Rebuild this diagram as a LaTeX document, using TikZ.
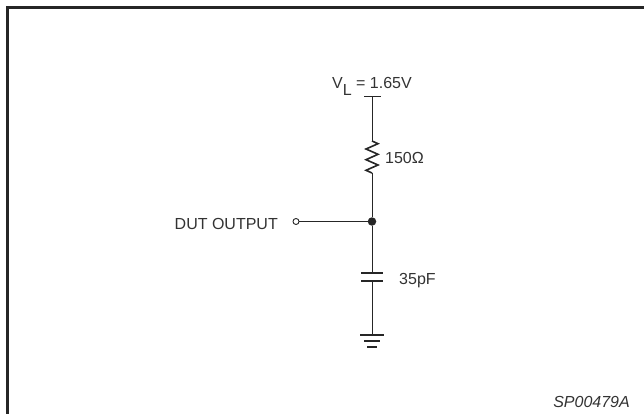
\documentclass[tikz,border=0pt]{standalone}
\usepackage{fontspec}
\setmainfont{Liberation Sans}
\begin{document}
\begin{tikzpicture}[x=1pt,y=-1pt,
  wire/.style={line width=1.0pt, color=black!85},
  plate/.style={line width=1.7pt, color=black!85},
  lbl/.style={font=\fontsize{16}{19}\selectfont, inner sep=0pt, text=black!80}]
\useasboundingbox (0,0) rectangle (644,414);
% frame
\draw[line width=2.2pt, black!85] (7.5,414) -- (7.5,7.5) -- (644,7.5);
% points
\coordinate (top) at (372,97);
\coordinate (rtop) at (372,141);
\coordinate (rbot) at (372,173);
\node[circle, fill=black!85, inner sep=0pt, minimum size=8.5pt] (j) at (372,221.5) {};
\node[circle, draw=black!85, fill=white, inner sep=0pt, minimum size=6pt, line width=0.9pt] (out) at (296,221.5) {};
\coordinate (c1) at (372,273);
\coordinate (c2) at (372,281);
\coordinate (g) at (372,335);
% supply bar
\draw[wire] (364,97) -- (381,97);
% resistor
\draw[wire] (top) -- (rtop);
\draw[wire, line width=1.6pt, line join=miter] (rtop) -- (378,143.7) -- (366,149) -- (378,154.3) -- (366,159.7) -- (378,165) -- (366,170.3) -- (rbot);
\draw[wire] (rbot) -- (j);
% output wire
\draw[wire] (out) -- (j);
% capacitor
\draw[wire] (j) -- (c1);
\draw[plate] (361,273) -- (383,273);
\draw[plate] (361,281) -- (383,281);
\draw[wire] (c2) -- (g);
% ground
\draw[plate] (360,335) -- (384,335);
\draw[plate] (364,341) -- (380,341);
\draw[plate] (367,347) -- (377,347);
% labels
\node[lbl, anchor=base west] (vl) at (332,89) {V\raisebox{-6.5pt}{L} = 1.65V};
\node[lbl, anchor=east] (dut) at (278,223.5) {DUT OUTPUT};
\node[lbl, anchor=west] (rl) at (385,158) {150Ω};
\node[lbl, anchor=west] (cl) at (399,281) {35pF};
\node[lbl, anchor=east, font=\fontsize{16}{19}\selectfont\itshape] (id) at (630,402) {SP00479A};
\end{tikzpicture}
\end{document}
